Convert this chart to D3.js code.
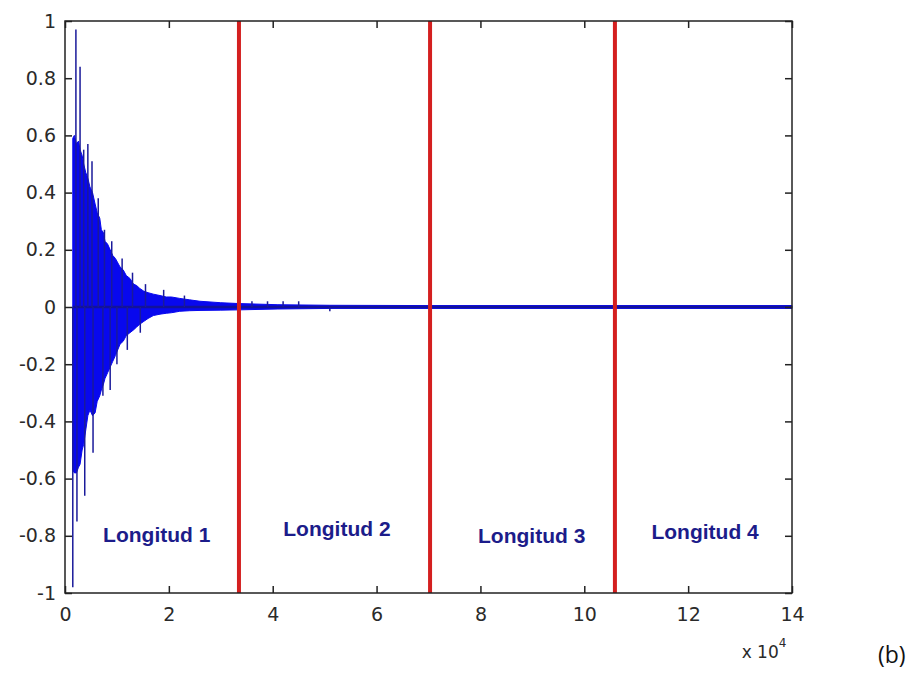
<!DOCTYPE html>
<html>
<head>
<meta charset="utf-8">
<script src="https://cdn.jsdelivr.net/npm/d3@7"></script>
<style>
  body { margin: 0; background: #fff; }
  svg { display: block; }
  .tick text { font-family: "DejaVu Sans", sans-serif; font-size: 19px; fill: #2a2a2a; }
</style>
</head>
<body>
<svg id="chart" width="921" height="678"></svg>
<script>
// signal envelope, x in units of 10^4 samples
const envT     = [0.15, 0.18, 0.22, 0.26, 0.29, 0.33, 0.36, 0.40, 0.44, 0.48, 0.53, 0.58, 0.62, 0.67, 0.70, 0.74, 0.77, 0.82, 0.87, 0.92, 0.97, 1.06, 1.12, 1.18, 1.25, 1.32, 1.38, 1.44, 1.52, 1.6, 1.7, 1.83, 1.95, 2.05, 2.21, 2.4, 2.6, 3.0, 3.35, 4.1, 5.1, 7.0, 10.6, 14.0];
const envUpper = [0.59, 0.60, 0.57, 0.58, 0.55, 0.53, 0.50, 0.47, 0.45, 0.42, 0.40, 0.36, 0.33, 0.31, 0.27, 0.26, 0.23, 0.22, 0.20, 0.18, 0.17, 0.14, 0.13, 0.11, 0.10, 0.08, 0.075, 0.065, 0.055, 0.05, 0.045, 0.04, 0.035, 0.035, 0.03, 0.025, 0.02, 0.015, 0.012, 0.008, 0.006, 0.005, 0.005, 0.005];
const envLower = [-0.57, -0.58, -0.58, -0.56, -0.55, -0.50, -0.48, -0.43, -0.38, -0.36, -0.38, -0.37, -0.33, -0.31, -0.29, -0.27, -0.25, -0.23, -0.21, -0.19, -0.17, -0.13, -0.12, -0.10, -0.09, -0.08, -0.07, -0.06, -0.05, -0.04, -0.03, -0.025, -0.022, -0.02, -0.015, -0.013, -0.012, -0.011, -0.01, -0.007, -0.005, -0.005, -0.005, -0.005];

// isolated peaks poking out of the envelope
const peaksT = [0.21, 0.29, 0.36, 0.44, 0.52, 0.64, 0.76, 0.90, 1.10, 1.30, 1.55, 1.90, 2.30, 0.15, 0.23, 0.38, 0.54, 0.73, 0.87, 1.00, 1.20, 1.45, 3.6, 3.9, 4.2, 4.5, 5.1];
const peaksV = [0.97, 0.84, 0.55, 0.57, 0.51, 0.38, 0.27, 0.23, 0.17, 0.12, 0.08, 0.06, 0.04, -0.98, -0.75, -0.66, -0.51, -0.31, -0.29, -0.20, -0.15, -0.09, 0.02, 0.02, 0.02, 0.02, -0.015];

// segment boundaries (x 10^4)
const dividers = [3.35, 7.03, 10.59];

const segLabels = ["Longitud 1", "Longitud 2", "Longitud 3", "Longitud 4"];
const segLabelX = [2.80, 6.27, 10.02, 13.36];   // right edge, x 10^4
const segLabelY = [-0.822, -0.800, -0.825, -0.811];

const xTicks = [0, 2, 4, 6, 8, 10, 12, 14];
const yTicks = [-1, -0.8, -0.6, -0.4, -0.2, 0, 0.2, 0.4, 0.6, 0.8, 1];

const margin = { top: 21, right: 129, bottom: 85, left: 65 };
const width = 921 - margin.left - margin.right;
const height = 678 - margin.top - margin.bottom;

const svg = d3.select('#chart');
const g = svg.append('g').attr('transform', `translate(${margin.left},${margin.top})`);

const x = d3.scaleLinear().domain([0, 14]).range([0, width]);
const y = d3.scaleLinear().domain([-1, 1]).range([height, 0]);

// signal body
const envData = envT.map((t, i) => ({ t, hi: envUpper[i], lo: envLower[i] }));
g.append('path')
    .datum(envData)
    .attr('fill', '#0808ee')
    .attr('stroke', '#0808ee')
    .attr('stroke-width', 1)
    .attr('d', d3.area().x(d => x(d.t)).y0(d => y(d.lo)).y1(d => y(d.hi)));

g.append('line')
    .attr('x1', x(0.15)).attr('x2', x(14))
    .attr('y1', y(0)).attr('y2', y(0))
    .attr('stroke', '#12129a')
    .attr('stroke-width', 2.5);

g.selectAll('.peak')
    .data(peaksT.map((t, i) => ({ t, v: peaksV[i] })))
    .enter()
    .append('line')
    .attr('class', 'peak')
    .attr('x1', d => x(d.t)).attr('x2', d => x(d.t))
    .attr('y1', y(0)).attr('y2', d => y(d.v))
    .attr('stroke', '#1a1a9a')
    .attr('stroke-width', 1.5);

// red dividers
g.selectAll('.divider')
    .data(dividers)
    .enter()
    .append('line')
    .attr('class', 'divider')
    .attr('x1', d => x(d)).attr('x2', d => x(d))
    .attr('y1', 0).attr('y2', height)
    .attr('stroke', '#d41f1f')
    .attr('stroke-width', 4);

// segment labels
g.selectAll('.seg')
    .data(segLabels)
    .enter()
    .append('text')
    .attr('class', 'seg')
    .attr('x', (d, i) => x(segLabelX[i]))
    .attr('y', (d, i) => y(segLabelY[i]))
    .attr('text-anchor', 'end')
    .style('font-family', '"Liberation Sans", Arial, sans-serif')
    .style('font-weight', 'bold')
    .style('font-size', '21px')
    .style('fill', '#1c1c8a')
    .text(d => d);

// axes (box with inward ticks)
const tickLen = 7;
g.append('g')
    .attr('transform', `translate(0,${height})`)
    .call(d3.axisBottom(x).tickValues(xTicks).tickSizeInner(-tickLen).tickSizeOuter(0).tickPadding(15).tickFormat(d => String(d)))
    .call(a => a.select('.domain').remove());
g.append('g')
    .call(d3.axisTop(x).tickValues(xTicks).tickSizeInner(-tickLen).tickSizeOuter(0).tickFormat(''))
    .call(a => a.select('.domain').remove());
g.append('g')
    .call(d3.axisLeft(y).tickValues(yTicks).tickSizeInner(-tickLen).tickSizeOuter(0).tickPadding(9).tickFormat(d => String(d)))
    .call(a => a.select('.domain').remove());
g.append('g')
    .attr('transform', `translate(${width},0)`)
    .call(d3.axisRight(y).tickValues(yTicks).tickSizeInner(-tickLen).tickSizeOuter(0).tickFormat(''))
    .call(a => a.select('.domain').remove());

g.selectAll('.tick line').attr('stroke', '#222').attr('stroke-width', 1.5);

g.append('rect')
    .attr('width', width).attr('height', height)
    .attr('fill', 'none')
    .attr('stroke', '#222')
    .attr('stroke-width', 1.5);

// exponent note
const expo = g.append('text')
    .attr('x', x(13.03))
    .attr('y', height + 65)
    .style('font-family', '"DejaVu Sans", sans-serif')
    .style('font-size', '17px')
    .style('fill', '#2a2a2a');
expo.append('tspan').text('x 10');
expo.append('tspan').attr('dy', -11).style('font-size', '12px').text('4');

svg.append('text')
    .attr('x', 878)
    .attr('y', 663)
    .style('font-family', '"Open Sans", sans-serif')
    .style('font-size', '23px')
    .style('fill', '#111')
    .text('(b)');
</script>
</body>
</html>
